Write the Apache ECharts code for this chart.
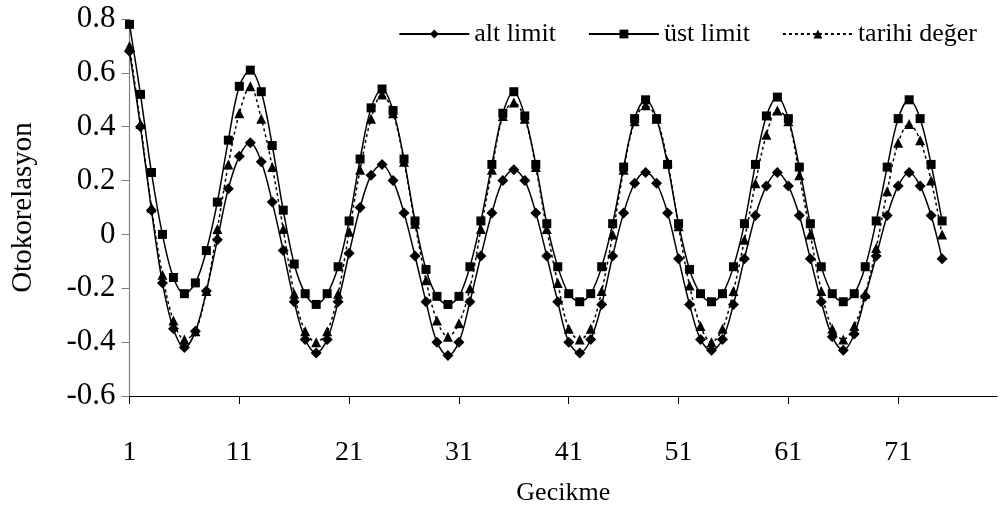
<!DOCTYPE html>
<html>
<head>
<meta charset="utf-8">
<script src="https://cdn.jsdelivr.net/npm/echarts@6/dist/echarts.min.js"></script>
<style>
html,body{margin:0;padding:0;background:#fff;}
#chart{width:1000px;height:513px;}
</style>
</head>
<body>
<div id="chart"></div>
<script>
// Lag categories (axis extends to 80; data to 75)
const lags = [1,2,3,4,5,6,7,8,9,10,11,12,13,14,15,16,17,18,19,20,
  21,22,23,24,25,26,27,28,29,30,31,32,33,34,35,36,37,38,39,40,
  41,42,43,44,45,46,47,48,49,50,51,52,53,54,55,56,57,58,59,60,
  61,62,63,64,65,66,67,68,69,70,71,72,73,74,75,76,77,78,79,80];

const altLimit = [0.68,0.40,0.09,-0.18,-0.35,-0.42,-0.36,-0.21,-0.02,0.17,
  0.29,0.34,0.27,0.12,-0.06,-0.25,-0.39,-0.44,-0.39,-0.25,
  -0.07,0.10,0.22,0.26,0.20,0.08,-0.08,-0.25,-0.40,-0.45,
  -0.40,-0.25,-0.08,0.08,0.20,0.24,0.20,0.08,-0.08,-0.25,
  -0.40,-0.44,-0.39,-0.26,-0.08,0.08,0.19,0.23,0.19,0.08,
  -0.09,-0.26,-0.39,-0.43,-0.39,-0.26,-0.09,0.07,0.18,0.23,
  0.18,0.07,-0.09,-0.25,-0.38,-0.43,-0.37,-0.23,-0.08,0.07,
  0.18,0.23,0.18,0.07,-0.09];

const ustLimit = [0.78,0.52,0.23,0.00,-0.16,-0.22,-0.18,-0.06,0.12,0.35,
  0.55,0.61,0.53,0.33,0.09,-0.11,-0.22,-0.26,-0.22,-0.12,
  0.05,0.28,0.47,0.54,0.46,0.28,0.05,-0.13,-0.23,-0.26,
  -0.23,-0.12,0.05,0.26,0.45,0.53,0.44,0.26,0.04,-0.12,
  -0.22,-0.25,-0.22,-0.12,0.04,0.25,0.43,0.50,0.43,0.26,
  0.04,-0.13,-0.22,-0.25,-0.22,-0.12,0.04,0.26,0.44,0.51,
  0.43,0.25,0.04,-0.12,-0.22,-0.25,-0.22,-0.12,0.05,0.25,
  0.43,0.50,0.43,0.26,0.05];

const tarihiDeger = [0.70,0.41,0.10,-0.15,-0.32,-0.39,-0.36,-0.21,0.02,0.26,
  0.45,0.55,0.43,0.25,0.02,-0.22,-0.36,-0.40,-0.36,-0.22,
  0.01,0.24,0.43,0.52,0.45,0.27,0.04,-0.17,-0.32,-0.38,
  -0.33,-0.20,0.02,0.24,0.44,0.49,0.43,0.25,0.02,-0.18,
  -0.35,-0.39,-0.35,-0.21,0.00,0.24,0.42,0.48,0.43,0.27,
  0.03,-0.19,-0.34,-0.40,-0.35,-0.21,-0.02,0.19,0.37,0.46,
  0.42,0.22,0.00,-0.21,-0.35,-0.39,-0.34,-0.22,-0.05,0.16,
  0.34,0.41,0.35,0.20,0.00];

const yTicks = {min: -0.6, max: 0.8, interval: 0.2};
const seriesNames = ['alt limit', 'üst limit', 'tarihi değer'];

const FONT = '"Liberation Serif", "Times New Roman", serif';
const chart = echarts.init(document.getElementById('chart'), null, {renderer: 'canvas'});

chart.setOption({
  animation: false,
  backgroundColor: '#ffffff',
  textStyle: {fontFamily: FONT, color: '#000'},
  grid: {left: 129.5, right: 3, top: 19, bottom: 117, containLabel: false},
  legend: {
    data: seriesNames,
    right: 18,
    top: 16,
    itemWidth: 70,
    itemHeight: 11,
    itemGap: 32,
    textStyle: {fontFamily: FONT, fontSize: 26, color: '#000', padding: [0,0,0,0]}
  },
  xAxis: {
    type: 'category',
    data: lags,
    boundaryGap: false,
    name: 'Gecikme',
    nameLocation: 'middle',
    nameGap: 84,
    nameTextStyle: {fontFamily: FONT, fontSize: 26, color: '#000'},
    axisLine: {onZero: false, lineStyle: {color: '#000', width: 1.2}},
    axisTick: {interval: 9, length: 8, lineStyle: {color: '#000'}},
    axisLabel: {interval: 9, margin: 43, fontFamily: FONT, fontSize: 28, color: '#000'},
    splitLine: {show: false}
  },
  yAxis: {
    type: 'value',
    min: yTicks.min,
    max: yTicks.max,
    interval: yTicks.interval,
    name: 'Otokorelasyon',
    nameLocation: 'middle',
    nameGap: 92,
    nameTextStyle: {fontFamily: FONT, fontSize: 29, color: '#000'},
    axisLine: {show: true, lineStyle: {color: '#808080', width: 1.2}},
    axisTick: {show: true, length: 8, lineStyle: {color: '#808080'}},
    axisLabel: {
      margin: 14, fontFamily: FONT, fontSize: 31, color: '#000',
      formatter: v => (Math.abs(v) < 1e-9 ? '0' : v.toFixed(1))
    },
    splitLine: {show: false}
  },
  series: [
    {
      name: seriesNames[0], type: 'line', data: altLimit, smooth: 0.35,
      symbol: 'diamond', symbolSize: 11, showAllSymbol: true,
      itemStyle: {color: '#000'},
      lineStyle: {color: '#000', width: 1.5}
    },
    {
      name: seriesNames[1], type: 'line', data: ustLimit, smooth: 0.35,
      symbol: 'rect', symbolSize: 9, showAllSymbol: true,
      itemStyle: {color: '#000'},
      lineStyle: {color: '#000', width: 1.5}
    },
    {
      name: seriesNames[2], type: 'line', data: tarihiDeger, smooth: 0.35,
      symbol: 'triangle', symbolSize: 10, showAllSymbol: true,
      itemStyle: {color: '#000'},
      lineStyle: {color: '#000', width: 1.5, type: [3, 3]}
    }
  ]
});
</script>
</body>
</html>
